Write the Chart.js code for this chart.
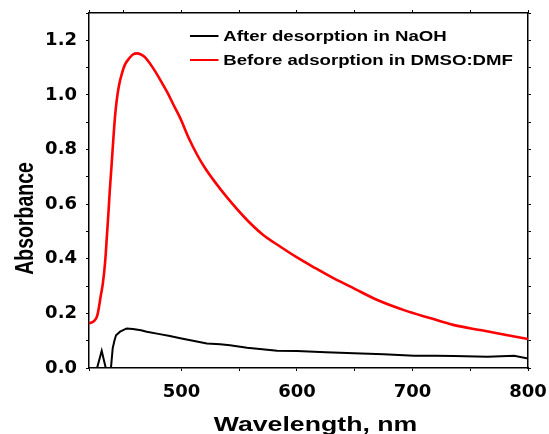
<!DOCTYPE html>
<html>
<head>
<meta charset="utf-8">
<script src="https://cdn.jsdelivr.net/npm/chart.js@4/dist/chart.umd.min.js"></script>
<style>
html,body{margin:0;padding:0;background:#fff;}
#c{display:block;}
</style>
</head>
<body>
<canvas id="c" width="549" height="434"></canvas>
<script>
// ---- data ----
const seriesNames = ["After desorption in NaOH", "Before adsorption in DMSO:DMF"];
const xTitle = "Wavelength, nm";
const yTitle = "Absorbance";

const redX = [420,423,425,427,428.5,430,432,434,435.6,437,438,439.5,441,442.5,444,446,448.6,451,455,458,461.6,465,468,471,475.5,481,487.7,493,499,506,513.7,520,527.8,540,556.8,570,585.7,600,615,632,650,669.6,692.7,715,736,760,780,800];
const redY = [0.164,0.168,0.175,0.19,0.22,0.26,0.31,0.39,0.49,0.58,0.65,0.74,0.834,0.92,0.98,1.035,1.08,1.11,1.135,1.148,1.152,1.148,1.14,1.125,1.098,1.06,1.01,0.965,0.915,0.845,0.78,0.735,0.688,0.622,0.542,0.49,0.444,0.405,0.368,0.328,0.29,0.249,0.212,0.183,0.157,0.138,0.122,0.106];

const blackX = [420,426,427,431,434.5,435.5,438,439,440.5,442,443.4,446.9,452.6,458,465,470,480,490,499,510,522,533.6,542,556.8,570,582.8,600,625,649.4,675,701.4,720,736,765,788,800];
const blackY = [-0.03,-0.03,0,0.063,0,-0.03,-0.03,0,0.072,0.1,0.12,0.133,0.145,0.143,0.138,0.133,0.125,0.117,0.109,0.1,0.09,0.087,0.083,0.074,0.069,0.063,0.062,0.058,0.054,0.05,0.045,0.045,0.044,0.041,0.045,0.035];

const xMin = 420, xMax = 800, xStep = 50;
const yMin = 0, yMax = 1.3, yStep = 0.1;

const pts = (xs, ys) => xs.map((x, i) => ({x: x, y: ys[i]}));

const tickFont = {family: "DejaVu Sans", weight: "bold", size: 18};

function gridOpts() {
  return {display: true, drawOnChartArea: false, drawTicks: true, tickLength: 3, color: "#000", lineWidth: 1};
}
function borderOpts() { return {display: true, color: "#000", width: 1.5}; }
function noPad(s) { s.paddingLeft = 0; s.paddingRight = 0; s.paddingTop = 0; s.paddingBottom = 0; }

const overlay = {
  id: "overlay",
  afterDraw(chart) {
    const ctx = chart.ctx;
    ctx.save();
    ctx.fillStyle = "#000";
    // x title
    ctx.save();
    ctx.font = "bold 21px 'Liberation Sans'";
    ctx.textAlign = "center";
    ctx.textBaseline = "alphabetic";
    ctx.translate(315.5, 430.5);
    ctx.scale(1.27, 1);
    ctx.fillText(xTitle, 0, 0);
    ctx.restore();
    // y title
    ctx.save();
    ctx.font = "bold 19.5px 'Liberation Sans'";
    ctx.textAlign = "center";
    ctx.textBaseline = "alphabetic";
    ctx.translate(33.3, 218.4);
    ctx.scale(1.3, 1);
    ctx.rotate(-Math.PI / 2);
    ctx.fillText(yTitle, 0, 0);
    ctx.restore();
    // legend
    const rows = [{y: 36, base: 40.7}, {y: 60, base: 65}];
    chart.data.datasets.forEach((ds, i) => {
      const r = rows[i];
      ctx.strokeStyle = ds.borderColor;
      ctx.lineWidth = 2;
      ctx.beginPath();
      ctx.moveTo(190, r.y);
      ctx.lineTo(218.5, r.y);
      ctx.stroke();
      ctx.save();
      ctx.font = "bold 14px 'Liberation Sans'";
      ctx.textAlign = "left";
      ctx.textBaseline = "alphabetic";
      ctx.translate(223.3, r.base);
      ctx.scale(1.33, 1);
      ctx.fillText(ds.label, 0, 0);
      ctx.restore();
    });
    ctx.restore();
  }
};

new Chart(document.getElementById("c"), {
  type: "line",
  data: {
    datasets: [
      {label: seriesNames[0], data: pts(blackX, blackY), borderColor: "#000000", borderWidth: 2, pointRadius: 0, tension: 0, clip: 0, xAxisID: "x", yAxisID: "y"},
      {label: seriesNames[1], data: pts(redX, redY), borderColor: "#ff0000", borderWidth: 2.6, pointRadius: 0, cubicInterpolationMode: "monotone", clip: 0, xAxisID: "x", yAxisID: "y"}
    ]
  },
  options: {
    responsive: false,
    animation: false,
    devicePixelRatio: 1,
    layout: {padding: 0},
    plugins: {legend: {display: false}, tooltip: {enabled: false}, title: {display: false}},
    scales: {
      x: {
        type: "linear", position: "bottom", min: xMin, max: xMax,
        ticks: {stepSize: xStep, font: tickFont, color: "#000", padding: 11, maxRotation: 0,
          callback: v => (Math.abs(v % 100) < 1e-6 ? String(v) : "")},
        grid: gridOpts(), border: borderOpts(),
        afterFit: s => { s.height = 66; noPad(s); }
      },
      x2: {
        type: "linear", position: "top", min: xMin, max: xMax,
        ticks: {stepSize: xStep, display: true, callback: () => "", font: {size: 1}, padding: 0},
        grid: gridOpts(), border: borderOpts(),
        afterFit: s => { s.height = 13; noPad(s); }
      },
      y: {
        type: "linear", position: "left", min: yMin, max: yMax,
        ticks: {stepSize: yStep, font: tickFont, color: "#000", padding: 9,
          callback: v => { const k = Math.round(v * 10); return (k % 2 === 0 && k <= 12) ? (k / 10).toFixed(1) : ""; }},
        grid: gridOpts(), border: borderOpts(),
        afterFit: s => { s.width = 89; noPad(s); }
      },
      y2: {
        type: "linear", position: "right", min: yMin, max: yMax,
        ticks: {stepSize: yStep, display: true, callback: () => "", font: {size: 1}, padding: 0},
        grid: gridOpts(), border: borderOpts(),
        afterFit: s => { s.width = 21; noPad(s); }
      }
    }
  },
  plugins: [overlay]
});
</script>
</body>
</html>
